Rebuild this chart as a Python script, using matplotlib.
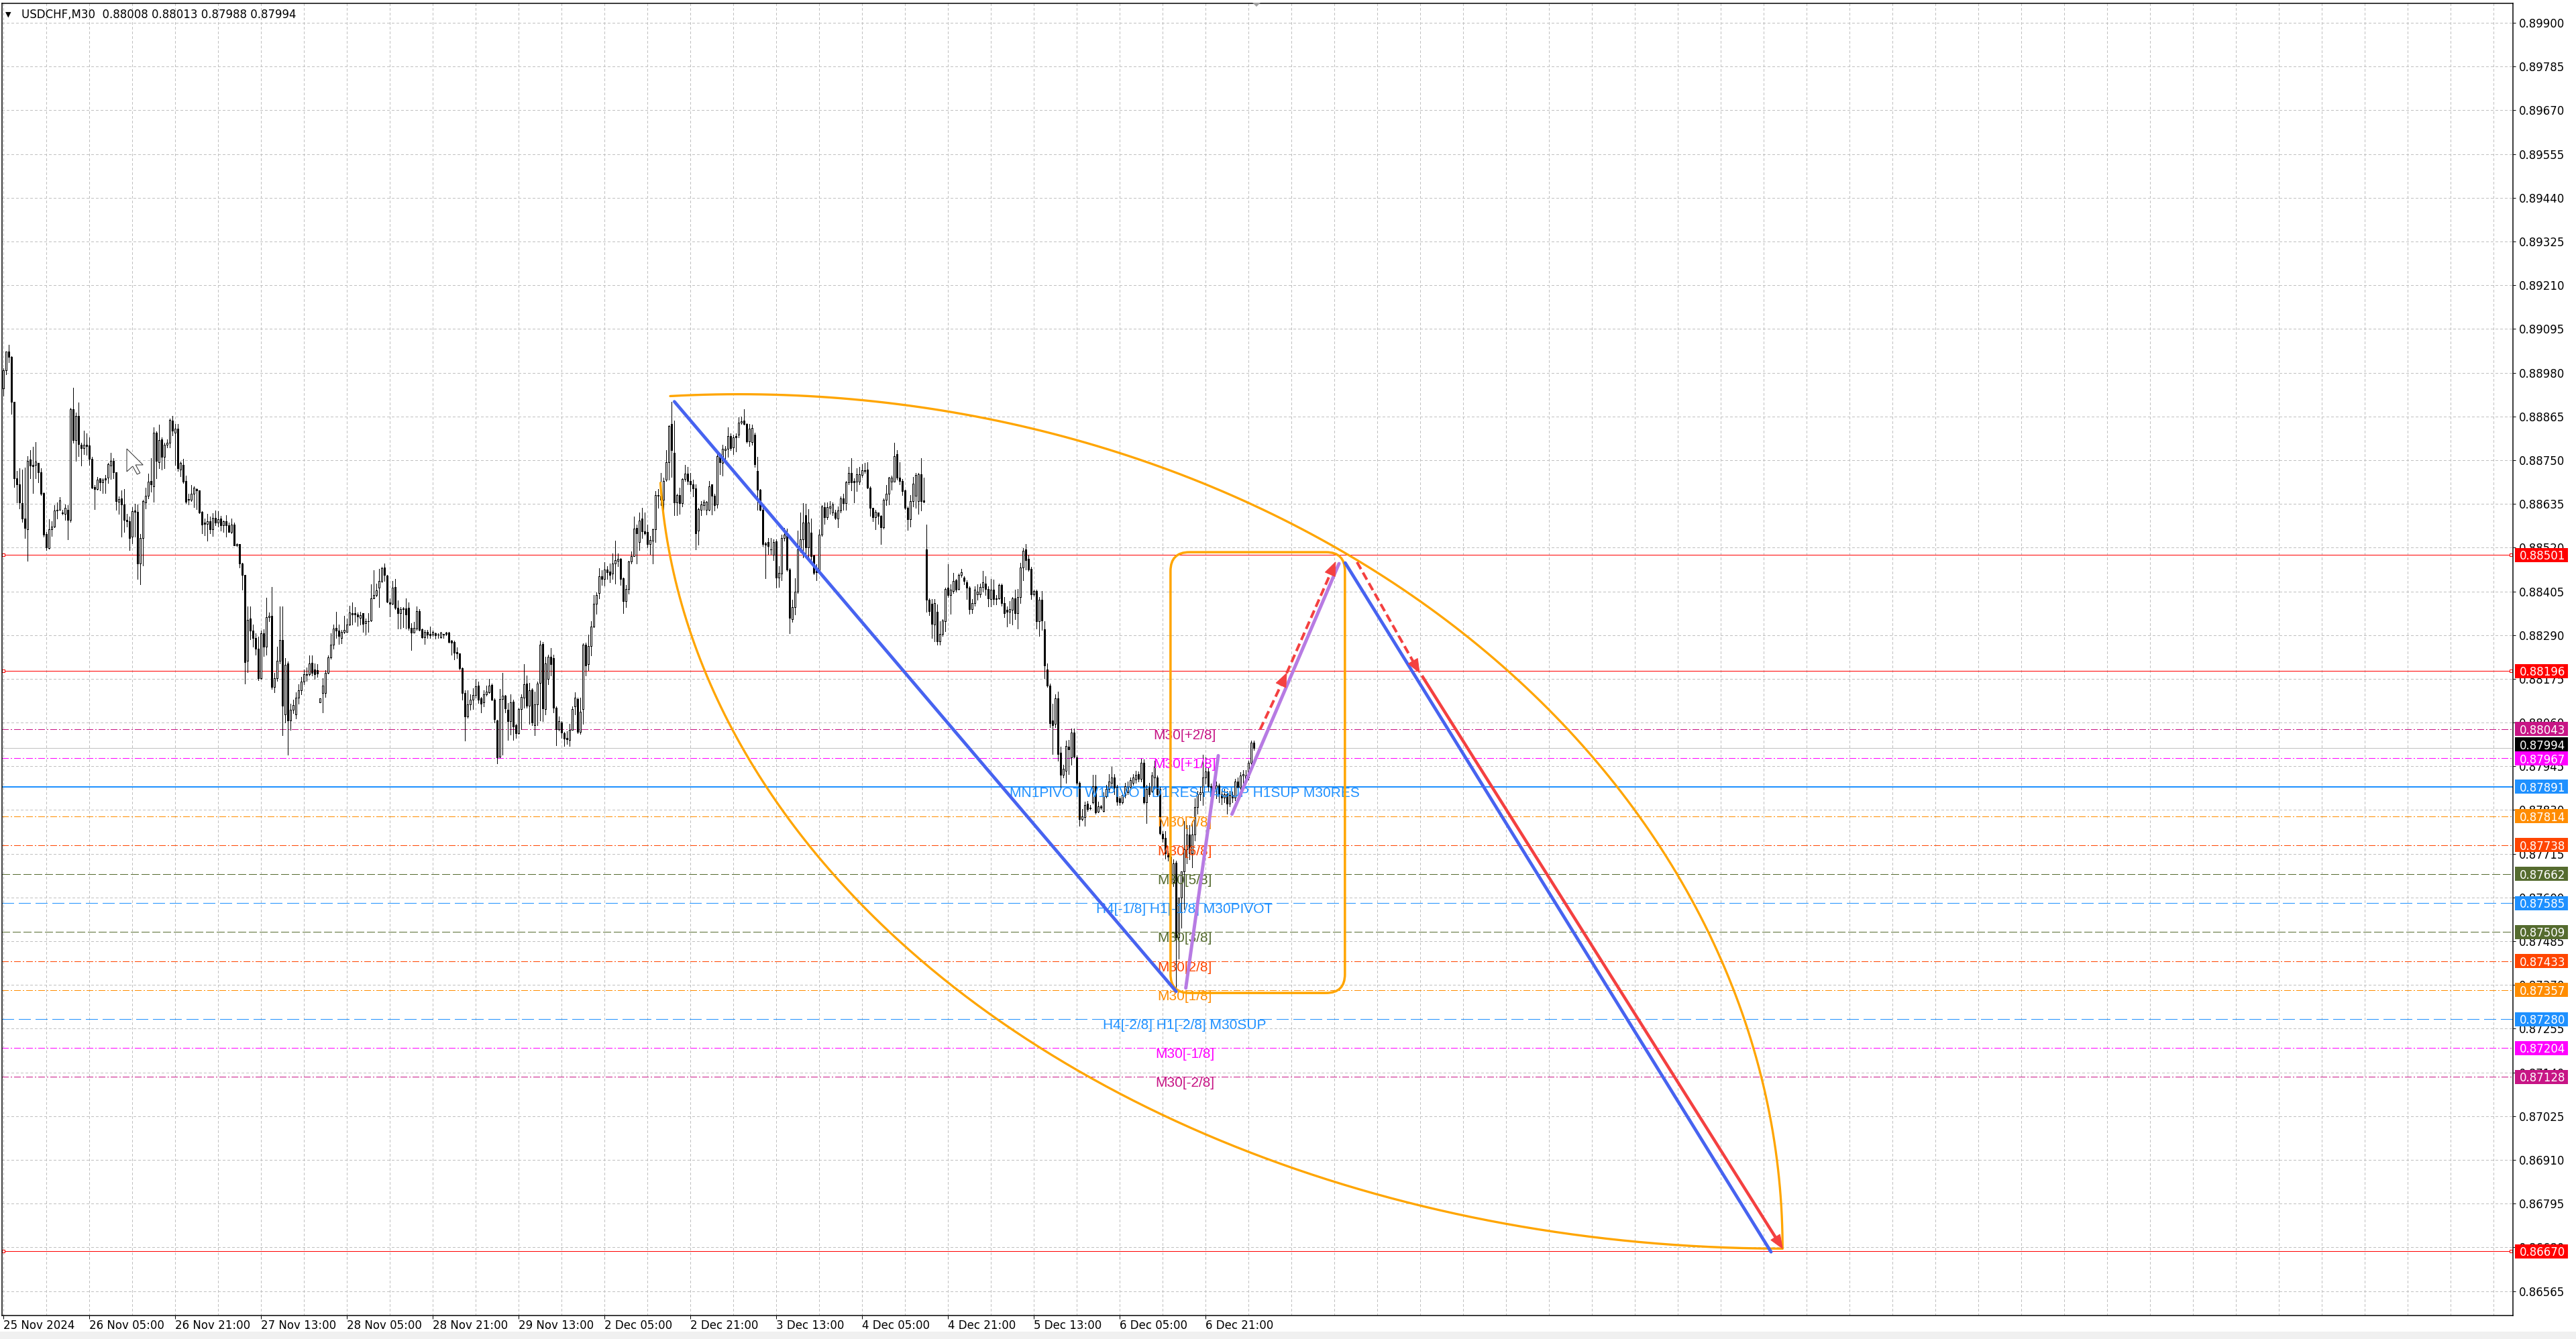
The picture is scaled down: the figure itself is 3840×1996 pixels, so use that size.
import numpy as np
import matplotlib
matplotlib.use('Agg')
import matplotlib.pyplot as plt
import matplotlib.transforms as mtransforms
from matplotlib.patches import Rectangle, FancyBboxPatch, Polygon

plt.rcParams['font.family'] = 'DejaVu Sans'
plt.rcParams['lines.scale_dashes'] = False

W, H = 3840, 1996
PX = 0.72  # one screen pixel in points (dpi=100)

# ---- USDCHF M30 candles, prices in 1e-5 units ----
opens = [
88939, 88986, 89036, 89022, 88904, 88703, 88686, 88637, 88597, 88568,
88751, 88737, 88737, 88742, 88718, 88664, 88556, 88519, 88568, 88576,
88617, 88620, 88612, 88609, 88620, 88593, 88884, 88802, 88867, 88791,
88781, 88791, 88789, 88754, 88680, 88674, 88702, 88691, 88702, 88704,
88735, 88749, 88718, 88640, 88649, 88634, 88593, 88590, 88548, 88617,
88614, 88479, 88546, 88639, 88656, 88695, 88681, 88822, 88744, 88805,
88758, 88790, 88796, 88854, 88822, 88832, 88725, 88737, 88695, 88648,
88646, 88661, 88674, 88670, 88614, 88585, 88582, 88590, 88568, 88599,
88585, 88596, 88579, 88589, 88579, 88561, 88580, 88526, 88529, 88479,
88449, 88223, 88334, 88302, 88283, 88255, 88176, 88294, 88259, 88338,
88340, 88153, 88176, 88223, 88278, 88081, 88215, 88066, 88094, 88082,
88125, 88145, 88168, 88188, 88187, 88218, 88200, 88197, 88113, 88138,
88138, 88190, 88231, 88264, 88309, 88301, 88283, 88298, 88299, 88318,
88348, 88347, 88345, 88335, 88347, 88321, 88326, 88329, 88386, 88396,
88414, 88433, 88468, 88446, 88376, 88373, 88416, 88361, 88348, 88359,
88360, 88361, 88309, 88296, 88308, 88353, 88306, 88285, 88298, 88293,
88291, 88295, 88291, 88285, 88293, 88296, 88296, 88275, 88272, 88246,
88241, 88203, 88137, 88076, 88108, 88120, 88133, 88157, 88123, 88113,
88135, 88139, 88159, 88120, 88066, 87971, 88122, 88131, 88093, 88063,
88115, 88053, 88032, 88095, 88126, 88163, 88104, 88146, 88053, 88107,
88164, 88267, 88095, 88174, 88233, 88229, 88099, 88043, 88061, 88032,
88019, 88015, 88041, 88102, 88122, 88035, 88095, 88265, 88213, 88262,
88313, 88373, 88400, 88444, 88438, 88463, 88457, 88451, 88478, 88485,
88491, 88440, 88380, 88411, 88483, 88498, 88572, 88535, 88597, 88563,
88561, 88530, 88539, 88568, 88658, 88656, 88646, 88698, 88745, 88845,
88769, 88639, 88659, 88637, 88701, 88715, 88695, 88687, 88676, 88565,
88620, 88632, 88620, 88620, 88686, 88656, 88634, 88760, 88743, 88776,
88780, 88813, 88784, 88813, 88817, 88849, 88854, 88845, 88799, 88797,
88817, 88721, 88672, 88620, 88531, 88535, 88516, 88502, 88537, 88441,
88451, 88546, 88554, 88463, 88332, 88364, 88405, 88516, 88542, 88606,
88520, 88560, 88500, 88465, 88457, 88554, 88626, 88600, 88624, 88612,
88612, 88597, 88617, 88649, 88637, 88691, 88717, 88695, 88693, 88693,
88711, 88721, 88726, 88678, 88624, 88600, 88612, 88604, 88574, 88646,
88661, 88693, 88693, 88765, 88704, 88696, 88671, 88624, 88594, 88643,
88656, 88643, 88713, 88644, 88516, 88383, 88372, 88317, 88351, 88274,
88293, 88327, 88414, 88395, 88406, 88434, 88412, 88448, 88441, 88429,
88414, 88358, 88374, 88397, 88397, 88416, 88426, 88412, 88385, 88409,
88387, 88387, 88422, 88375, 88356, 88351, 88356, 88387, 88348, 88390,
88468, 88516, 88490, 88465, 88397, 88406, 88327, 88383, 88306, 88199,
88157, 88065, 88056, 88123, 87980, 87922, 87934, 87997, 87968, 88034,
87968, 87902, 87806, 87811, 87847, 87835, 87850, 87893, 87825, 87840,
87828, 87867, 87886, 87901, 87915, 87891, 87860, 87850, 87870, 87876,
87891, 87902, 87910, 87925, 87912, 87954, 87850, 87889, 87881, 87915,
87915, 87886, 87767, 87757, 87716, 87707, 87640, 87692, 87495, 87600,
87668, 87726, 87765, 87716, 87765, 87838, 87872, 87876, 87915, 87932,
87893, 87876, 87886, 87895, 87872, 87862, 87872, 87847, 87870, 87862,
87905, 87889, 87920, 87910, 87915, 87954, 88008,
]
highs = [
88991, 89036, 89054, 89023, 88904, 88722, 88728, 88725, 88730, 88761,
88777, 88785, 88797, 88743, 88728, 88666, 88561, 88595, 88590, 88631,
88639, 88653, 88620, 88634, 88632, 88888, 88940, 88875, 88901, 88796,
88827, 88820, 88810, 88758, 88685, 88705, 88702, 88703, 88711, 88743,
88769, 88756, 88718, 88655, 88671, 88674, 88608, 88602, 88627, 88636,
88634, 88555, 88646, 88678, 88714, 88755, 88836, 88825, 88844, 88810,
88796, 88805, 88860, 88866, 88846, 88846, 88746, 88754, 88709, 88661,
88684, 88681, 88676, 88671, 88615, 88596, 88609, 88602, 88611, 88618,
88615, 88603, 88592, 88605, 88586, 88596, 88585, 88532, 88530, 88480,
88449, 88365, 88365, 88318, 88294, 88286, 88302, 88306, 88389, 88349,
88416, 88190, 88260, 88365, 88365, 88230, 88220, 88110, 88120, 88140,
88160, 88180, 88200, 88205, 88236, 88236, 88216, 88213, 88124, 88177,
88197, 88236, 88295, 88318, 88352, 88318, 88304, 88340, 88334, 88368,
88376, 88363, 88350, 88352, 88348, 88334, 88347, 88424, 88461, 88425,
88465, 88470, 88479, 88448, 88386, 88432, 88438, 88381, 88363, 88363,
88386, 88376, 88321, 88324, 88366, 88359, 88308, 88304, 88304, 88312,
88301, 88296, 88295, 88298, 88293, 88298, 88298, 88278, 88275, 88257,
88242, 88205, 88144, 88144, 88135, 88151, 88174, 88167, 88128, 88144,
88157, 88174, 88163, 88124, 88067, 88148, 88190, 88133, 88112, 88135,
88120, 88056, 88099, 88135, 88213, 88184, 88164, 88150, 88141, 88167,
88275, 88272, 88233, 88239, 88256, 88239, 88102, 88076, 88063, 88035,
88037, 88056, 88102, 88139, 88125, 88125, 88269, 88270, 88291, 88326,
88396, 88402, 88466, 88461, 88481, 88471, 88478, 88504, 88538, 88505,
88492, 88442, 88422, 88485, 88510, 88602, 88580, 88613, 88624, 88613,
88580, 88550, 88570, 88669, 88674, 88717, 88704, 88776, 88842, 88904,
88854, 88661, 88678, 88702, 88738, 88733, 88717, 88698, 88687, 88624,
88643, 88646, 88643, 88695, 88687, 88661, 88765, 88770, 88791, 88787,
88836, 88821, 88817, 88821, 88862, 88865, 88884, 88847, 88845, 88843,
88822, 88758, 88674, 88628, 88535, 88546, 88546, 88542, 88542, 88472,
88554, 88572, 88570, 88466, 88383, 88439, 88565, 88613, 88637, 88635,
88622, 88597, 88502, 88476, 88568, 88632, 88639, 88639, 88643, 88639,
88620, 88628, 88654, 88661, 88695, 88732, 88756, 88702, 88728, 88733,
88739, 88743, 88745, 88681, 88624, 88619, 88613, 88606, 88649, 88684,
88706, 88709, 88795, 88776, 88745, 88701, 88672, 88628, 88659, 88706,
88717, 88717, 88756, 88704, 88580, 88387, 88384, 88385, 88371, 88327,
88332, 88414, 88477, 88424, 88453, 88438, 88451, 88465, 88445, 88434,
88419, 88385, 88419, 88424, 88426, 88458, 88445, 88419, 88438, 88436,
88395, 88426, 88426, 88390, 88366, 88380, 88390, 88409, 88412, 88480,
88519, 88529, 88501, 88470, 88409, 88409, 88390, 88406, 88327, 88216,
88162, 88109, 88135, 88141, 87997, 87949, 88012, 88015, 88044, 88044,
87973, 87905, 87833, 87852, 87854, 87844, 87922, 87922, 87852, 87844,
87876, 87896, 87925, 87944, 87925, 87896, 87867, 87873, 87901, 87905,
87915, 87925, 87934, 87932, 87965, 87964, 87896, 87901, 87930, 87959,
87920, 87891, 87775, 87775, 87721, 87721, 87700, 87697, 87560, 87640,
87800, 87790, 87790, 87800, 87860, 87880, 87890, 87975, 87968, 87940,
87900, 87895, 87905, 87900, 87885, 87885, 87880, 87880, 87878, 87912,
87915, 87930, 87935, 87935, 87960, 88012, 88013,
]
lows = [
88919, 88976, 89007, 88872, 88680, 88639, 88623, 88587, 88545, 88485,
88702, 88664, 88702, 88691, 88658, 88548, 88514, 88517, 88550, 88574,
88597, 88619, 88607, 88593, 88542, 88588, 88796, 88749, 88761, 88735,
88766, 88764, 88737, 88676, 88621, 88673, 88670, 88664, 88664, 88690,
88700, 88702, 88620, 88608, 88549, 88561, 88576, 88514, 88532, 88549,
88438, 88423, 88473, 88623, 88649, 88667, 88640, 88702, 88728, 88725,
88728, 88784, 88784, 88816, 88737, 88722, 88708, 88690, 88637, 88634,
88643, 88626, 88621, 88611, 88558, 88552, 88539, 88558, 88551, 88578,
88576, 88564, 88561, 88548, 88561, 88558, 88526, 88524, 88467, 88409,
88162, 88192, 88279, 88259, 88239, 88172, 88175, 88235, 88239, 88326,
88148, 88140, 88170, 88215, 88026, 88060, 87975, 88040, 88085, 88070,
88110, 88135, 88160, 88170, 88184, 88184, 88174, 88180, 88113, 88086,
88128, 88189, 88228, 88255, 88282, 88267, 88269, 88295, 88298, 88316,
88318, 88324, 88314, 88318, 88298, 88291, 88298, 88326, 88386, 88391,
88363, 88429, 88432, 88376, 88339, 88371, 88359, 88308, 88308, 88311,
88308, 88304, 88250, 88296, 88304, 88301, 88282, 88267, 88282, 88282,
88288, 88280, 88282, 88282, 88283, 88289, 88270, 88239, 88226, 88229,
88200, 88120, 88012, 88073, 88093, 88095, 88125, 88112, 88087, 88102,
88131, 88138, 88118, 88061, 87952, 87969, 87975, 88087, 88014, 88028,
88014, 88020, 88030, 88043, 88099, 88099, 88056, 88054, 88027, 88053,
88066, 88063, 88082, 88161, 88184, 88086, 88001, 88039, 88020, 87999,
88004, 87999, 88040, 88082, 88032, 88030, 88056, 88184, 88197, 88237,
88311, 88346, 88386, 88422, 88420, 88438, 88429, 88438, 88425, 88472,
88422, 88347, 88363, 88399, 88479, 88498, 88479, 88513, 88545, 88554,
88520, 88503, 88478, 88535, 88624, 88632, 88594, 88695, 88698, 88706,
88606, 88606, 88609, 88628, 88695, 88687, 88669, 88654, 88516, 88528,
88606, 88620, 88607, 88617, 88607, 88617, 88624, 88713, 88710, 88743,
88758, 88776, 88765, 88773, 88810, 88845, 88843, 88795, 88787, 88790,
88732, 88619, 88617, 88524, 88439, 88503, 88503, 88487, 88414, 88416,
88435, 88539, 88459, 88295, 88325, 88344, 88401, 88509, 88494, 88502,
88496, 88479, 88450, 88435, 88453, 88550, 88583, 88594, 88609, 88606,
88594, 88574, 88613, 88620, 88619, 88686, 88671, 88639, 88669, 88686,
88706, 88717, 88676, 88604, 88589, 88568, 88583, 88530, 88570, 88632,
88634, 88672, 88693, 88698, 88686, 88658, 88622, 88567, 88576, 88628,
88624, 88609, 88617, 88639, 88352, 88342, 88283, 88274, 88264, 88264,
88288, 88300, 88390, 88346, 88400, 88405, 88409, 88443, 88424, 88385,
88346, 88348, 88368, 88383, 88390, 88405, 88395, 88366, 88366, 88371,
88371, 88385, 88368, 88337, 88312, 88322, 88317, 88332, 88308, 88375,
88434, 88463, 88458, 88385, 88393, 88308, 88288, 88303, 88177, 88154,
88048, 87978, 88048, 87959, 87886, 87915, 87901, 87925, 87949, 87968,
87896, 87789, 87802, 87789, 87828, 87831, 87847, 87821, 87823, 87833,
87826, 87862, 87876, 87891, 87872, 87844, 87844, 87847, 87862, 87872,
87886, 87896, 87901, 87905, 87905, 87847, 87796, 87867, 87876, 87886,
87867, 87765, 87746, 87702, 87697, 87620, 87630, 87358, 87440, 87520,
87570, 87690, 87700, 87680, 87750, 87820, 87855, 87843, 87900, 87880,
87860, 87870, 87860, 87850, 87845, 87850, 87820, 87840, 87850, 87855,
87880, 87875, 87900, 87900, 87910, 87950, 87988,
]
closes = [
88986, 89036, 89022, 88904, 88703, 88687, 88639, 88597, 88572, 88748,
88736, 88734, 88746, 88718, 88662, 88554, 88520, 88568, 88576, 88617,
88620, 88644, 88611, 88624, 88593, 88884, 88802, 88867, 88793, 88781,
88791, 88787, 88754, 88678, 88674, 88698, 88691, 88699, 88699, 88739,
88749, 88718, 88643, 88647, 88634, 88593, 88590, 88546, 88616, 88614,
88479, 88546, 88643, 88656, 88693, 88686, 88822, 88749, 88803, 88758,
88790, 88796, 88856, 88828, 88832, 88728, 88742, 88693, 88640, 88645,
88662, 88678, 88670, 88613, 88580, 88582, 88589, 88568, 88599, 88585,
88595, 88579, 88589, 88578, 88562, 88580, 88526, 88529, 88479, 88448,
88219, 88330, 88302, 88283, 88255, 88176, 88294, 88259, 88338, 88340,
88153, 88176, 88223, 88278, 88105, 88212, 88066, 88094, 88106, 88125,
88145, 88168, 88188, 88185, 88216, 88191, 88187, 88189, 88124, 88157,
88190, 88231, 88264, 88308, 88301, 88287, 88298, 88303, 88318, 88350,
88344, 88344, 88339, 88342, 88320, 88326, 88327, 88386, 88396, 88407,
88433, 88466, 88448, 88378, 88373, 88414, 88361, 88348, 88359, 88360,
88344, 88309, 88296, 88309, 88353, 88304, 88285, 88298, 88291, 88290,
88298, 88290, 88291, 88296, 88291, 88293, 88272, 88270, 88244, 88241,
88203, 88137, 88076, 88108, 88120, 88133, 88156, 88120, 88110, 88135,
88141, 88157, 88120, 88069, 87969, 88122, 88130, 88097, 88063, 88113,
88050, 88032, 88095, 88128, 88161, 88104, 88144, 88060, 88107, 88163,
88265, 88097, 88216, 88233, 88213, 88099, 88043, 88063, 88033, 88017,
88016, 88041, 88095, 88126, 88035, 88089, 88265, 88211, 88262, 88313,
88373, 88396, 88445, 88438, 88463, 88455, 88448, 88479, 88487, 88491,
88438, 88380, 88412, 88484, 88498, 88570, 88557, 88592, 88563, 88557,
88530, 88540, 88568, 88658, 88656, 88646, 88696, 88745, 88839, 88776,
88639, 88659, 88637, 88701, 88715, 88695, 88686, 88676, 88557, 88622,
88634, 88641, 88641, 88681, 88656, 88632, 88761, 88745, 88780, 88780,
88813, 88782, 88810, 88810, 88849, 88852, 88845, 88800, 88832, 88834,
88739, 88672, 88620, 88530, 88528, 88524, 88515, 88535, 88441, 88453,
88546, 88554, 88463, 88335, 88364, 88404, 88516, 88542, 88585, 88520,
88585, 88498, 88453, 88456, 88554, 88628, 88600, 88626, 88628, 88634,
88598, 88617, 88650, 88637, 88691, 88717, 88691, 88691, 88713, 88712,
88723, 88724, 88678, 88624, 88600, 88614, 88604, 88574, 88646, 88661,
88704, 88704, 88760, 88704, 88696, 88669, 88624, 88594, 88643, 88689,
88711, 88713, 88643, 88641, 88383, 88353, 88320, 88374, 88274, 88293,
88329, 88412, 88395, 88409, 88432, 88409, 88448, 88455, 88432, 88414,
88358, 88374, 88409, 88405, 88416, 88429, 88412, 88387, 88409, 88385,
88385, 88422, 88375, 88348, 88351, 88358, 88387, 88348, 88390, 88468,
88511, 88487, 88463, 88397, 88406, 88327, 88383, 88329, 88211, 88157,
88058, 88054, 88123, 87978, 87922, 87939, 87999, 87990, 88034, 87970,
87902, 87806, 87813, 87844, 87833, 87837, 87893, 87823, 87840, 87837,
87867, 87886, 87905, 87915, 87889, 87852, 87850, 87870, 87893, 87889,
87908, 87915, 87922, 87912, 87954, 87850, 87886, 87872, 87920, 87944,
87872, 87770, 87755, 87716, 87707, 87640, 87690, 87495, 87600, 87668,
87726, 87765, 87716, 87765, 87838, 87872, 87876, 87915, 87932, 87893,
87876, 87886, 87895, 87872, 87862, 87872, 87847, 87870, 87862, 87905,
87889, 87920, 87925, 87920, 87954, 88007, 87994,
]

# ---- axes ticks ----
price_ticks = [0.89900, 0.89785, 0.89670, 0.89555, 0.89440, 0.89325, 0.89210,
               0.89095, 0.88980, 0.88865, 0.88750, 0.88635, 0.88520, 0.88405,
               0.88290, 0.88175, 0.88060, 0.87945, 0.87830, 0.87715, 0.87600,
               0.87485, 0.87370, 0.87255, 0.87140, 0.87025, 0.86910, 0.86795,
               0.86680, 0.86565]
time_labels = ['25 Nov 2024', '26 Nov 05:00', '26 Nov 21:00', '27 Nov 13:00',
               '28 Nov 05:00', '28 Nov 21:00', '29 Nov 13:00', '2 Dec 05:00',
               '2 Dec 21:00', '3 Dec 13:00', '4 Dec 05:00', '4 Dec 21:00',
               '5 Dec 13:00', '6 Dec 05:00', '6 Dec 21:00']
time_label_bars = [0, 32, 64, 96, 128, 160, 192, 224, 256, 288, 320, 352, 384, 416, 448]

# ---- murrey math levels ----
level_prices = [0.88043, 0.87967, 0.87891, 0.87814, 0.87738, 0.87662, 0.87585,
                0.87509, 0.87433, 0.87357, 0.87280, 0.87204, 0.87128]
level_names = ['M30[+2/8]', 'M30[+1/8]', 'MN1PIVOT W1PIVOT D1RES H4SUP H1SUP M30RES',
               'M30[7/8]', 'M30[6/8]', 'M30[5/8]', 'H4[-1/8] H1[-1/8] M30PIVOT',
               'M30[3/8]', 'M30[2/8]', 'M30[1/8]', 'H4[-2/8] H1[-2/8] M30SUP',
               'M30[-1/8]', 'M30[-2/8]']
level_colors = ['#C71585', '#FF00FF', '#1E90FF', '#FF8C00', '#FF4500', '#556B2F',
                '#1E90FF', '#556B2F', '#FF4500', '#FF8C00', '#1E90FF', '#FF00FF', '#C71585']
level_styles = ['dashdot', 'dashdot', 'solid', 'dashdot', 'dashdot', 'dash', 'longdash',
                'dash', 'dashdot', 'dashdot', 'longdash', 'dashdot', 'dashdot']
label_bar = 440.2

red_levels = [0.88501, 0.88196, 0.86670]
bid_price = 0.87994

# right axis price tags (offset = pixel shift MT4 applies to avoid overlap)
tag_prices = [0.88501, 0.88196, 0.88043, 0.87994, 0.87967, 0.87891, 0.87814, 0.87738,
              0.87662, 0.87585, 0.87509, 0.87433, 0.87357, 0.87280, 0.87204, 0.87128, 0.86670]
tag_colors = ['#FF0000', '#FF0000', '#C71585', '#000000', '#FF00FF', '#1E90FF', '#FF8C00',
              '#FF4500', '#556B2F', '#1E90FF', '#556B2F', '#FF4500', '#FF8C00', '#1E90FF',
              '#FF00FF', '#C71585', '#FF0000']
tag_shift_px = [0, 0, 0, 5, -1, 0, 0, 0, 0, 0, 0, 0, 0, 0, 0, 0, 0]

# ---- drawn objects (bar index, price) ----
trend_bars = [[250, 437], [500, 658.7]]
trend_prices = [[0.88904, 0.87353], [0.88480, 0.86668]]
purple_bars = [[440.6, 452.7], [457.8, 497.7]]
purple_prices = [[0.87362, 0.87973], [0.87819, 0.88478]]
box_bars = [434.9, 499.9]
box_prices = [0.87349, 0.88508]
# elliptical arcs: centre (bar, price), half-axes (bars, price), angle range (deg)
arc_centers = [(274.2, 0.86677), (663.0, 0.887936)]
arc_axes = [(388.8, 0.022464), (418.7, 0.021168)]
arc_angles = [(93.8, 0.0), (182.8, 270.0)]
# forecast arrows: start, end, dashed?
arrow_bars = [[468.3, 478.2], [478.2, 496.4], [504.4, 527.7], [528.9, 663.0]]
arrow_prices = [[0.88042, 0.88190], [0.88190, 0.88482], [0.88482, 0.88191], [0.88180, 0.86677]]
arrow_dashed = [True, True, True, False]

o = np.array(opens) / 1e5
h = np.array(highs) / 1e5
l = np.array(lows) / 1e5
c = np.array(closes) / 1e5
h = np.maximum(h, np.maximum(o, c))
l = np.minimum(l, np.minimum(o, c))
idx = np.arange(len(c))

fig = plt.figure(figsize=(W / 100, H / 100), dpi=100)
fig.patch.set_facecolor('white')
ax = fig.add_axes([3 / W, 1 - 1961 / H, 3743 / W, 1956 / H])
ax.set_xlim(-0.575, 935.2)
ax.set_ylim(0.865008, 0.899512)
ax.set_facecolor('white')

# grid
for p in price_ticks:
    ax.axhline(p, color='#c0c0c0', lw=PX, dashes=(3 * PX, 3 * PX), zorder=1, antialiased=False)
for b in range(0, 936, 16):
    ax.axvline(b, color='#c0c0c0', lw=PX, dashes=(3 * PX, 3 * PX), zorder=1, antialiased=False)

# level lines
dash_map = {'dashdot': (10 * PX, 3 * PX, 2 * PX, 3 * PX), 'dash': (11 * PX, 5 * PX),
            'longdash': (18 * PX, 7 * PX)}
for p, col, st in zip(level_prices, level_colors, level_styles):
    if st == 'solid':
        ax.axhline(p, color=col, lw=2 * PX, zorder=2, antialiased=False)
    else:
        ax.axhline(p, color=col, lw=PX, dashes=dash_map[st], zorder=2, antialiased=False)
for p in red_levels:
    ax.axhline(p, color='#FF0000', lw=PX, zorder=2, antialiased=False)
    ax.plot([-0.1, 934.4], [p, p], ls='none', marker='s', ms=4 * PX, mfc='white',
            mec='#FF0000', mew=PX, zorder=2, clip_on=False)
ax.axhline(bid_price, color='#c0c0c0', lw=PX, zorder=2, antialiased=False)

# candles
up = c >= o
ax.vlines(idx, l, h, color='black', lw=PX, zorder=3, antialiased=False)
ax.bar(idx[up], (c - o)[up], bottom=o[up], width=0.55, color='white',
       edgecolor='black', lw=PX, zorder=4, antialiased=False)
ax.bar(idx[~up], (o - c)[~up], bottom=c[~up], width=0.55, color='black',
       edgecolor='black', lw=PX, zorder=4, antialiased=False)

# level names
for p, name, col in zip(level_prices, level_names, level_colors):
    ax.text(label_bar, p, name, color=col, fontsize=15, family='Liberation Sans',
            ha='center', va='top', zorder=5)

# orange arcs
for (cx, cy), (a, b), (t0, t1) in zip(arc_centers, arc_axes, arc_angles):
    t = np.radians(np.linspace(t0, t1, 300))
    ax.plot(cx + a * np.cos(t), cy + b * np.sin(t), color='#FFA500', lw=3.3 * PX,
            solid_capstyle='round', zorder=6)

# orange rounded box (drawn in pixel space for round corners)
(bx0, by0), (bx1, by1) = ax.transData.transform([(box_bars[0], box_prices[0]),
                                                 (box_bars[1], box_prices[1])])
ax.add_patch(FancyBboxPatch((bx0, by0), bx1 - bx0, by1 - by0,
                            boxstyle='round,pad=0,rounding_size=28',
                            transform=mtransforms.IdentityTransform(),
                            fill=False, edgecolor='#FFA500', lw=3.5 * PX, zorder=6))

# trend lines
for xs, ys in zip(trend_bars, trend_prices):
    ax.plot(xs, ys, color='#4763F0', lw=4.8 * PX, solid_capstyle='round', zorder=7)
for xs, ys in zip(purple_bars, purple_prices):
    ax.plot(xs, ys, color='#B77BE3', lw=5 * PX, solid_capstyle='round', zorder=7)

# forecast arrows
red = '#F44040'
for xs, ys, dashed in zip(arrow_bars, arrow_prices, arrow_dashed):
    (sx, sy), (ex, ey) = ax.transData.transform([(xs[0], ys[0]), (xs[1], ys[1])])
    d = np.array([ex - sx, ey - sy])
    d = d / np.hypot(*d)
    n = np.array([-d[1], d[0]])
    hl, hw = 20, 8
    base = np.array([ex, ey]) - hl * d
    if dashed:
        ax.plot([sx, base[0]], [sy, base[1]], color=red, lw=4 * PX,
                dashes=(12 * PX, 6 * PX), solid_capstyle='butt',
                transform=mtransforms.IdentityTransform(), zorder=8)
    else:
        ax.plot([sx, base[0]], [sy, base[1]], color=red, lw=4.5 * PX,
                transform=mtransforms.IdentityTransform(), zorder=8)
    head = [(ex, ey), tuple(base + hw * n), tuple(base - hw * n)]
    ax.add_patch(Polygon(head, closed=True, facecolor=red, edgecolor=red, lw=PX,
                         transform=mtransforms.IdentityTransform(), zorder=8))

# axes styling
for s in ax.spines.values():
    s.set_color('black')
    s.set_linewidth(1.5 * PX)
ax.yaxis.tick_right()
ax.set_yticks(price_ticks)
ax.set_yticklabels(['%.5f' % p for p in price_ticks])
ax.tick_params(axis='y', direction='out', length=4 * PX, width=PX, pad=5 * PX,
               labelsize=12, colors='black')
ax.set_xticks(time_label_bars)
ax.set_xticklabels(time_labels)
for lbl in ax.get_xticklabels():
    lbl.set_horizontalalignment('left')
ax.tick_params(axis='x', direction='out', length=5 * PX, width=PX, pad=1 * PX,
               labelsize=12, colors='black')

# price tags on right axis
blend = mtransforms.blended_transform_factory(fig.transFigure, ax.transData)
px_price = (0.899512 - 0.865008) / 1956
for p, col, sh in zip(tag_prices, tag_colors, tag_shift_px):
    yc = p + sh * px_price
    fig.add_artist(Rectangle((3749 / W, yc - 10.5 * px_price), 79 / W, 21 * px_price,
                             transform=blend, facecolor=col, edgecolor='none', zorder=5))
    fig.text(3756 / W, yc, '%.5f' % p, transform=blend, color='white', fontsize=12,
             ha='left', va='center_baseline', zorder=6)

# title
fig.text(8 / W, 1 - 22 / H, '\u25bc', fontsize=8, ha='left', va='center', color='black')
fig.text(32 / W, 1 - 22 / H, 'USDCHF,M30  0.88008 0.88013 0.87988 0.87994',
         fontsize=12, ha='left', va='center', color='black')

# chart shift marker and mouse pointer
fig.add_artist(Polygon([(1867, H - 4), (1879, H - 4), (1873, H - 10)], closed=True,
                       facecolor='#a0a0a0', edgecolor='none',
                       transform=mtransforms.IdentityTransform(), zorder=5))
cursor = np.array([(0, 0), (0, 17), (4, 13), (7, 19), (9, 18), (6, 12), (11, 12)], float)
cursor[:, 0] = 189 + cursor[:, 0] * 2.2
cursor[:, 1] = H - (669 + cursor[:, 1] * 2.0)
fig.add_artist(Polygon(cursor, closed=True, facecolor='white', edgecolor='#303030',
                       lw=PX, transform=mtransforms.IdentityTransform(), zorder=5))

# window frame strip
fig.add_artist(Rectangle((0, 0), 1, 11 / H, transform=fig.transFigure,
                         facecolor='#f0f0f0', edgecolor='none', zorder=0))

fig.savefig('out.png', dpi=100)
